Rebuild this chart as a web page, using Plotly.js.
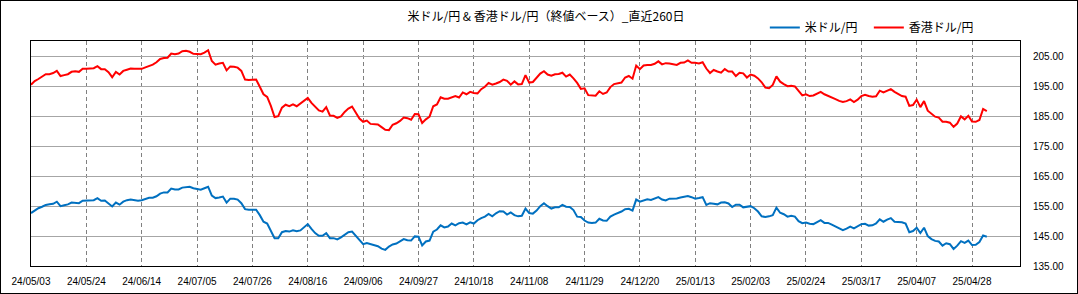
<!DOCTYPE html>
<html>
<head>
<meta charset="utf-8">
<script src="https://cdn.plot.ly/plotly-3.0.1.min.js"></script>
<style>
  html, body { margin: 0; padding: 0; background: #fff; }
  #frame { width: 1078px; height: 294px; box-sizing: border-box; border: 1px solid #000; overflow: hidden; }
  #chart { width: 1076px; height: 292px; }
</style>
</head>
<body>
<div id="frame"><div id="chart"></div></div>
<script>
// Tick labels every 15 trading days (index positions 0,15,30,...)
const tickLabels = ["24/05/03","24/05/24","24/06/14","24/07/05","24/07/26","24/08/16","24/09/06","24/09/27","24/10/18","24/11/08","24/11/29","24/12/20","25/01/13","25/02/03","25/02/24","25/03/17","25/04/07","25/04/28"];

// USD/JPY close, last 260 trading days
const usdJpy = [
152.7,153.6,154.3,154.8,155.4,155.6,155.8,156.5,155.0,155.3,
155.6,156.2,156.2,156.0,156.8,156.8,156.8,157.0,157.7,156.8,
156.9,156.0,154.9,156.2,155.5,156.5,157.0,157.2,157.0,156.8,
157.0,157.3,157.8,157.8,158.3,159.2,159.6,159.6,160.9,160.6,
160.6,161.2,161.3,161.5,161.0,160.8,160.5,161.0,161.5,158.5,
157.7,157.9,158.2,156.2,157.5,157.5,157.2,156.0,154.0,153.8,
153.7,153.8,152.0,149.8,149.2,146.9,144.3,144.3,146.3,146.7,
146.5,146.9,146.6,146.9,148.0,149.0,147.4,146.0,145.1,145.1,
146.0,144.3,144.3,143.9,144.6,145.4,146.3,146.5,145.0,143.5,
142.3,142.7,142.4,142.0,141.6,140.8,140.4,141.5,142.2,142.5,
143.2,144.0,143.6,143.5,144.9,144.8,141.9,143.2,143.5,146.5,
147.2,148.6,147.9,148.2,149.2,148.6,149.3,149.5,148.9,149.6,
149.2,150.3,151.0,151.5,152.4,151.6,152.6,153.3,153.2,152.2,
152.9,152.0,151.6,151.8,154.2,152.7,152.5,153.5,155.0,156.0,
155.0,154.2,154.6,154.6,155.4,154.8,154.7,153.7,151.5,151.4,
150.2,149.5,149.4,149.5,150.8,150.2,150.1,151.5,152.2,152.6,
153.2,154.0,154.1,153.5,157.2,156.5,157.0,157.3,157.1,157.5,
158.0,157.2,156.9,157.5,157.5,157.6,157.9,158.1,158.4,158.0,
157.5,157.7,158.0,155.4,156.0,155.8,155.6,156.2,156.3,155.9,
154.7,155.5,155.5,154.6,154.8,155.0,154.3,153.2,151.6,151.4,
151.6,152.0,154.5,152.8,152.3,151.5,151.8,151.5,150.0,149.3,
149.5,149.1,149.0,149.6,150.3,149.4,149.4,148.8,148.2,147.7,
147.0,147.5,148.2,147.6,148.3,149.0,149.1,148.5,148.6,149.2,
150.6,149.8,150.5,151.0,149.8,149.8,149.6,149.2,146.3,146.7,
147.8,146.0,147.8,145.0,144.0,143.4,143.2,141.8,142.6,142.3,
140.7,141.8,143.3,142.7,143.5,142.0,142.1,143.0,145.2,144.8
];

// HKD/JPY close (as plotted), last 260 trading days
const hkdJpy = [
195.6,196.8,197.5,198.2,199.1,199.1,199.5,200.2,198.5,198.8,
199.1,199.9,200.1,199.9,200.9,200.9,200.9,201.1,201.8,200.8,
200.8,199.8,198.1,199.9,199.0,200.2,200.6,201.0,200.9,200.9,
200.9,201.4,201.8,202.3,203.1,204.2,204.5,204.6,206.0,205.8,
206.0,206.8,206.9,206.6,205.9,205.8,205.8,206.3,207.1,203.5,
202.3,202.7,202.9,200.4,201.7,201.6,201.3,200.2,197.3,197.2,
197.2,197.3,194.9,192.4,191.5,188.5,184.8,185.1,187.9,188.9,
188.4,189.0,188.4,189.3,190.5,191.2,189.5,188.2,187.0,186.6,
188.1,185.3,185.2,184.5,185.0,186.5,187.6,188.3,186.5,184.3,
183.2,183.6,182.5,182.5,182.3,181.4,180.5,180.4,182.2,182.7,
183.5,184.6,184.4,183.9,185.8,185.7,182.8,184.0,184.9,188.4,
189.0,191.4,190.9,190.9,191.4,191.8,191.3,193.0,192.4,193.2,
192.8,192.7,194.1,194.9,196.2,195.6,196.0,196.5,197.3,196.9,
195.6,196.7,195.7,195.8,198.8,196.3,196.5,198.0,199.3,200.1,
199.0,198.6,199.1,199.2,199.6,198.3,199.0,197.7,196.2,194.2,
194.4,192.1,191.9,191.9,193.4,192.5,193.0,194.8,195.8,196.0,
196.3,198.0,198.5,197.6,202.0,200.8,202.0,202.2,202.2,202.6,
203.4,202.4,202.8,202.7,202.5,202.2,202.9,203.0,203.7,202.9,
202.9,202.7,203.1,201.0,199.5,200.5,200.0,199.6,200.8,200.0,
200.0,198.5,199.6,199.4,198.0,199.0,198.6,197.7,196.4,194.6,
194.4,195.5,198.4,196.6,195.8,195.1,195.2,195.0,193.5,192.0,
192.4,191.8,192.0,192.6,193.2,192.4,191.9,191.5,190.8,190.2,
189.8,190.1,190.7,189.8,190.6,191.8,192.2,191.8,191.6,191.7,
193.6,193.0,193.5,194.1,193.2,192.5,191.8,191.6,188.5,188.8,
190.6,188.1,190.1,186.9,185.8,184.9,184.6,183.2,183.2,182.9,
181.5,182.6,185.0,184.0,185.2,183.3,183.2,183.8,187.5,186.8
];

const seriesNames = ["米ドル/円", "香港ドル/円"];
const titleText = "米ドル/円 & 香港ドル/円（終値ベース）_直近260日";
const yTicks = [135, 145, 155, 165, 175, 185, 195, 205];

const idx = usdJpy.map((_, i) => i);
const tickVals = tickLabels.map((_, i) => i * 15);

const traces = [
  { x: idx, y: usdJpy, name: seriesNames[0], type: 'scatter', mode: 'lines',
    line: { color: '#0070C0', width: 2 } },
  { x: idx, y: hkdJpy, name: seriesNames[1], type: 'scatter', mode: 'lines',
    line: { color: '#FF0000', width: 2 } }
];

const layout = {
  width: 1076, height: 292,
  margin: { l: 30, r: 57, t: 32, b: 27, pad: 0 },
  paper_bgcolor: '#ffffff', plot_bgcolor: '#ffffff',
  font: { family: '"Noto Sans CJK JP", "Liberation Sans", sans-serif', size: 12, color: '#000' },
  title: { text: titleText, x: 545 / 1076, xref: 'container', xanchor: 'center',
           y: 1 - 16 / 292, yref: 'container', yanchor: 'middle',
           font: { family: '"Noto Sans CJK JP", sans-serif', size: 12, color: '#000' } },
  showlegend: true,
  legend: { orientation: 'h', x: 0.742, xanchor: 'left', y: 1.06, yanchor: 'middle',
            font: { family: '"Noto Sans CJK JP", sans-serif', size: 12, color: '#000' },
            bgcolor: 'rgba(0,0,0,0)', itemwidth: 30, tracegroupgap: 0,
            entrywidth: 59, entrywidthmode: 'pixels' },
  xaxis: {
    range: [0, 268], tickmode: 'array', tickvals: tickVals, ticktext: tickLabels,
    showgrid: true, gridcolor: '#808080', gridwidth: 1, griddash: '4px,3px',
    showline: true, linecolor: '#000', linewidth: 1, mirror: true,
    ticks: '', zeroline: false, ticklabelstandoff: 6,
    tickfont: { family: '"Liberation Sans", Arial, sans-serif', size: 10, color: '#000' }
  },
  yaxis: {
    range: [135, 210.2], side: 'right', tickmode: 'array', tickvals: yTicks,
    tickformat: '.2f',
    showgrid: true, gridcolor: '#a6a6a6', gridwidth: 1,
    showline: true, linecolor: '#000', linewidth: 1, mirror: true,
    ticks: '', zeroline: false, ticklabelstandoff: 10,
    tickfont: { family: '"Liberation Sans", Arial, sans-serif', size: 10, color: '#000' }
  }
};

Plotly.newPlot('chart', traces, layout, { staticPlot: true, displayModeBar: false });
</script>
</body>
</html>
